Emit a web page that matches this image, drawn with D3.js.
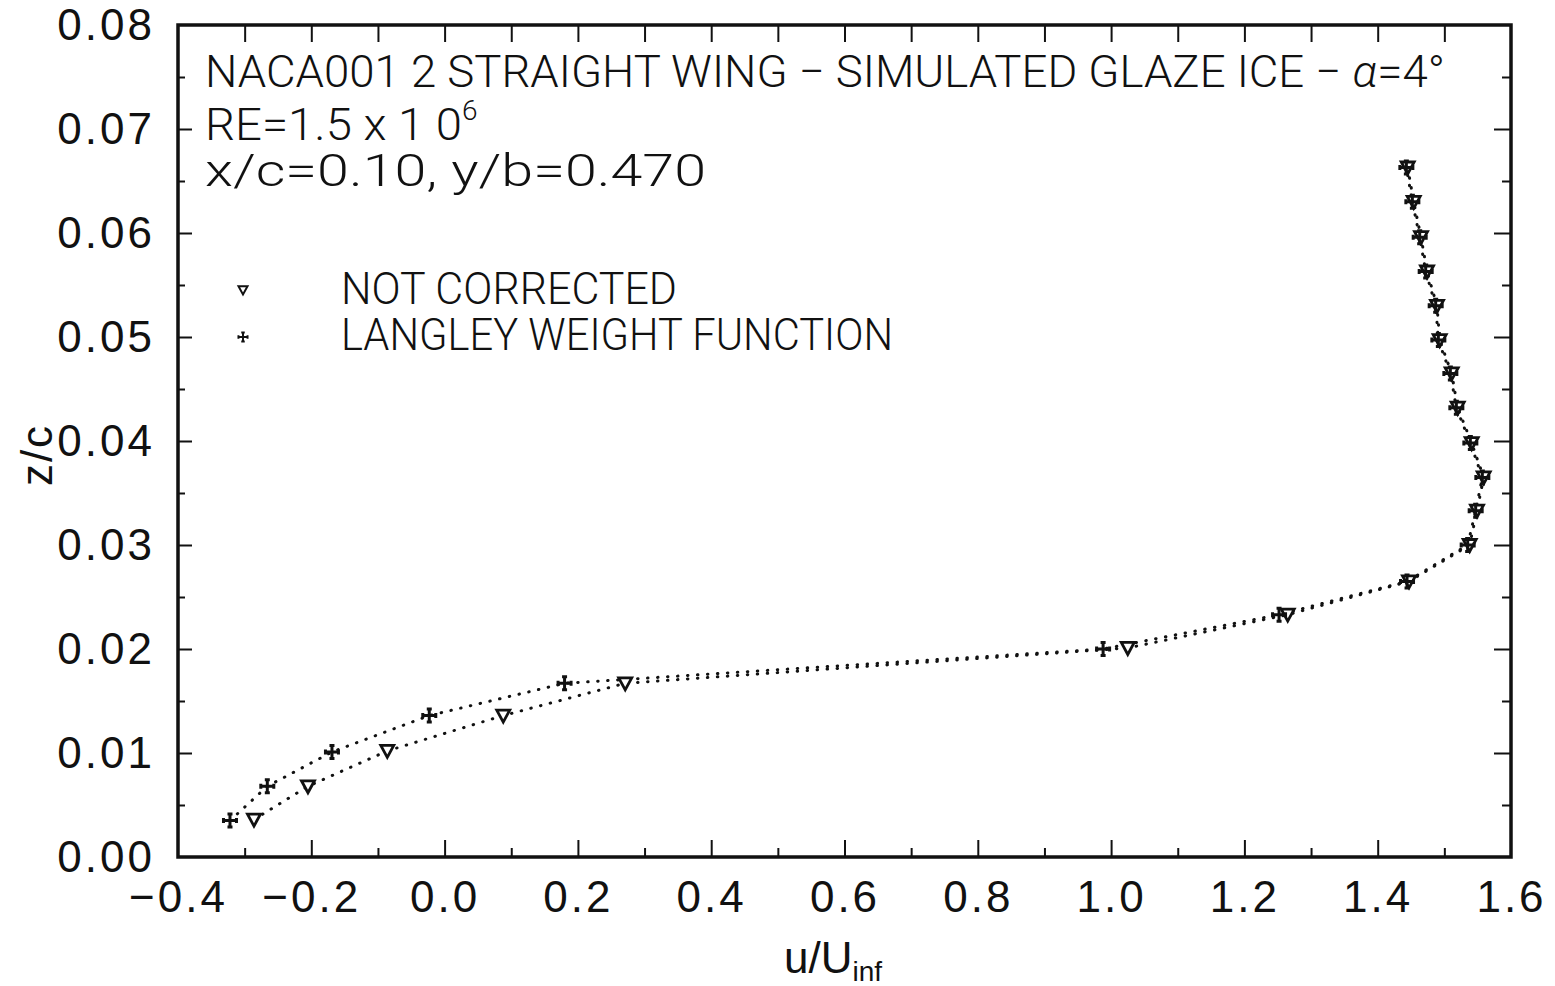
<!DOCTYPE html>
<html>
<head>
<meta charset="utf-8">
<script src="https://cdn.jsdelivr.net/npm/d3@7"></script>
<style>
  html, body { margin: 0; padding: 0; background: #fff; }
  svg text { fill: #111; }
</style>
</head>
<body>
<div class="visual"></div>
<script>
// values
const uNotCorrected = [-0.286, -0.205, -0.086, 0.088, 0.271, 1.025, 1.265, 1.447, 1.538, 1.549,
                       1.559, 1.541, 1.520, 1.511, 1.493, 1.489, 1.474, 1.465, 1.454, 1.445];
const zNotCorrected = [0.0036, 0.0068, 0.0102, 0.0136, 0.0167, 0.0201, 0.0233, 0.0265, 0.0300, 0.0333,
                       0.0365, 0.0398, 0.0432, 0.0465, 0.0497, 0.0530, 0.0563, 0.0596, 0.0630, 0.0663];
const uLangley = [-0.322, -0.266, -0.169, -0.023, 0.180, 0.988, 1.252, 1.444, 1.535, 1.547,
                  1.557, 1.539, 1.518, 1.509, 1.491, 1.487, 1.472, 1.463, 1.452, 1.443];
const zLangley = [0.0035, 0.0068, 0.0101, 0.0136, 0.0167, 0.0200, 0.0233, 0.0265, 0.0300, 0.0333,
                  0.0365, 0.0398, 0.0432, 0.0465, 0.0497, 0.0530, 0.0563, 0.0596, 0.0630, 0.0663];

const xTicks = [-0.4, -0.2, 0.0, 0.2, 0.4, 0.6, 0.8, 1.0, 1.2, 1.4, 1.6];
const xMinor = [-0.3, -0.1, 0.1, 0.3, 0.5, 0.7, 0.9, 1.1, 1.3, 1.5];
const yTicks = [0.00, 0.01, 0.02, 0.03, 0.04, 0.05, 0.06, 0.07, 0.08];
const yMinor = [0.005, 0.015, 0.025, 0.035, 0.045, 0.055, 0.065, 0.075];

const seriesNames = ["NOT CORRECTED", "LANGLEY WEIGHT FUNCTION"];

const W = 1555, H = 986;
const margin = { left: 178, right: 44, top: 25, bottom: 129 };
const plotW = W - margin.left - margin.right;
const plotH = H - margin.top - margin.bottom;

const tickFont = "'Liberation Sans', Arial, Helvetica, sans-serif";
const textFont = "Roboto, 'Liberation Sans', sans-serif";

const svg = d3.select(".visual").append("svg")
    .attr("width", W)
    .attr("height", H);

const g = svg.append("g")
    .attr("transform", `translate(${margin.left},${margin.top})`);

const x = d3.scaleLinear().domain([-0.4, 1.6]).range([0, plotW]);
const y = d3.scaleLinear().domain([0, 0.08]).range([plotH, 0]);

function styleAxis(sel) {
    sel.select(".domain").remove();
    sel.selectAll(".tick line").attr("stroke", "#111").attr("stroke-width", 2);
    sel.selectAll("text")
        .style("font-family", tickFont)
        .style("font-size", "44px")
        .style("letter-spacing", "3px")
        .attr("fill", "#111");
}

// bottom axis with labels
const xAxisG = g.append("g")
    .attr("transform", `translate(0,${plotH})`)
    .call(d3.axisBottom(x).tickValues(xTicks).tickSize(-17).tickPadding(24)
        .tickFormat(d => d3.format(".1f")(d).replace("-", "\u2212")));
styleAxis(xAxisG);
xAxisG.selectAll(".tick").filter((d, i) => i === 0 || i === xTicks.length - 1).select("line").remove();

g.append("g")
    .attr("transform", `translate(0,${plotH})`)
    .call(d3.axisBottom(x).tickValues(xMinor).tickSize(-9).tickFormat(""))
    .call(styleAxis);

// top axis, ticks only
g.append("g")
    .call(d3.axisTop(x).tickValues(xTicks.slice(1, -1)).tickSize(-17).tickFormat(""))
    .call(styleAxis);
g.append("g")
    .call(d3.axisTop(x).tickValues(xMinor).tickSize(-17).tickFormat(""))
    .call(styleAxis);

// left axis with labels
const yAxisG = g.append("g")
    .call(d3.axisLeft(y).tickValues(yTicks).tickSize(-14).tickPadding(23)
        .tickFormat(d3.format(".2f")));
styleAxis(yAxisG);
yAxisG.selectAll(".tick").filter((d, i) => i === 0 || i === yTicks.length - 1).select("line").remove();

g.append("g")
    .call(d3.axisLeft(y).tickValues(yMinor).tickSize(-7).tickFormat(""))
    .call(styleAxis);

// right axis, ticks only
g.append("g")
    .attr("transform", `translate(${plotW},0)`)
    .call(d3.axisRight(y).tickValues(yTicks.slice(1, -1)).tickSize(-17).tickFormat(""))
    .call(styleAxis);
g.append("g")
    .attr("transform", `translate(${plotW},0)`)
    .call(d3.axisRight(y).tickValues(yMinor).tickSize(-9).tickFormat(""))
    .call(styleAxis);

// frame
g.append("rect")
    .attr("x", 0).attr("y", 0)
    .attr("width", plotW).attr("height", plotH)
    .attr("fill", "none")
    .attr("stroke", "#111")
    .attr("stroke-width", 3.5);

// data
const notCorrected = uNotCorrected.map((u, i) => ({ u: u, z: zNotCorrected[i] }));
const langley = uLangley.map((u, i) => ({ u: u, z: zLangley[i] }));

const line = d3.line().x(d => x(d.u)).y(d => y(d.z));

[notCorrected, langley].forEach(data => {
    g.append("path")
        .datum(data)
        .attr("d", line)
        .attr("fill", "none")
        .attr("stroke", "#111")
        .attr("stroke-width", 3)
        .attr("stroke-linecap", "round")
        .attr("stroke-dasharray", "0.5,9.5");
});

const triPath = "M-6.5,-5.5 L6.5,-5.5 L0,6.5 Z";
const crossPath = "M0,-7 V7 M-7,0 H7 M-2.5,-6.5 H2.5 M-2.5,6.5 H2.5 M-6.5,-2.5 V2.5 M6.5,-2.5 V2.5";

function drawTriangles(sel, data, k) {
    sel.selectAll("path.tri")
        .data(data)
        .enter()
        .append("path")
        .attr("class", "tri")
        .attr("d", triPath)
        .attr("transform", d => `translate(${x(d.u)},${y(d.z)}) scale(${k})`)
        .attr("fill", "#fff")
        .attr("stroke", "#111")
        .attr("stroke-width", 2.8);
}

function drawCrosses(sel, data, k) {
    sel.selectAll("path.cross")
        .data(data)
        .enter()
        .append("path")
        .attr("class", "cross")
        .attr("d", crossPath)
        .attr("transform", d => `translate(${x(d.u)},${y(d.z)}) scale(${k})`)
        .attr("fill", "none")
        .attr("stroke", "#111")
        .attr("stroke-width", 3);
}

drawTriangles(g.append("g"), notCorrected, 1);
drawCrosses(g.append("g"), langley, 1);

// title block
const title = svg.append("g")
    .style("font-family", textFont)
    .style("font-weight", 300)
    .style("font-size", "45px");

const t1 = title.append("text").attr("x", 205).attr("y", 87)
    .attr("textLength", 1240).attr("lengthAdjust", "spacingAndGlyphs");
t1.append("tspan").text("NACA001 2 STRAIGHT WING \u2212 SIMULATED GLAZE ICE \u2212 ");
t1.append("tspan").style("font-style", "italic").text("\u03b1");
t1.append("tspan").text("=4\u00b0");

const t2 = title.append("text").attr("x", 205).attr("y", 140);
t2.append("tspan").attr("textLength", 257).attr("lengthAdjust", "spacingAndGlyphs").text("RE=1.5 x 1 0");
t2.append("tspan").attr("dy", -20).style("font-size", "28px").text("6");

title.append("text").attr("x", 205).attr("y", 186)
    .attr("textLength", 501).attr("lengthAdjust", "spacingAndGlyphs")
    .text("x/c=0.10,  y/b=0.470");

// legend
const legend = svg.append("g")
    .style("font-family", textFont)
    .style("font-weight", 300)
    .style("font-size", "45px");

legend.append("path")
    .attr("d", triPath)
    .attr("transform", "translate(243,290) scale(0.7)")
    .attr("fill", "#fff").attr("stroke", "#111").attr("stroke-width", 2.8);
legend.append("path")
    .attr("d", crossPath)
    .attr("transform", "translate(243,337) scale(0.7)")
    .attr("fill", "none").attr("stroke", "#111").attr("stroke-width", 2.8);

const legendWidths = [336, 552];
legend.selectAll("text.leg")
    .data(seriesNames)
    .enter()
    .append("text")
    .attr("class", "leg")
    .attr("x", 341)
    .attr("y", (d, i) => 304 + i * 46)
    .attr("textLength", (d, i) => legendWidths[i])
    .attr("lengthAdjust", "spacingAndGlyphs")
    .text(d => d);

// axis titles
const xLabel = svg.append("text")
    .attr("x", 833).attr("y", 973)
    .attr("text-anchor", "middle")
    .style("font-family", tickFont)
    .style("font-size", "44px");
xLabel.append("tspan").text("u/U");
xLabel.append("tspan").attr("dy", 8).style("font-size", "28px").text("inf");

svg.append("text")
    .attr("transform", "translate(52,455) rotate(-90)")
    .attr("text-anchor", "middle")
    .style("font-family", tickFont)
    .style("font-size", "44px")
    .style("letter-spacing", "2px")
    .text("z/c");
</script>
</body>
</html>
